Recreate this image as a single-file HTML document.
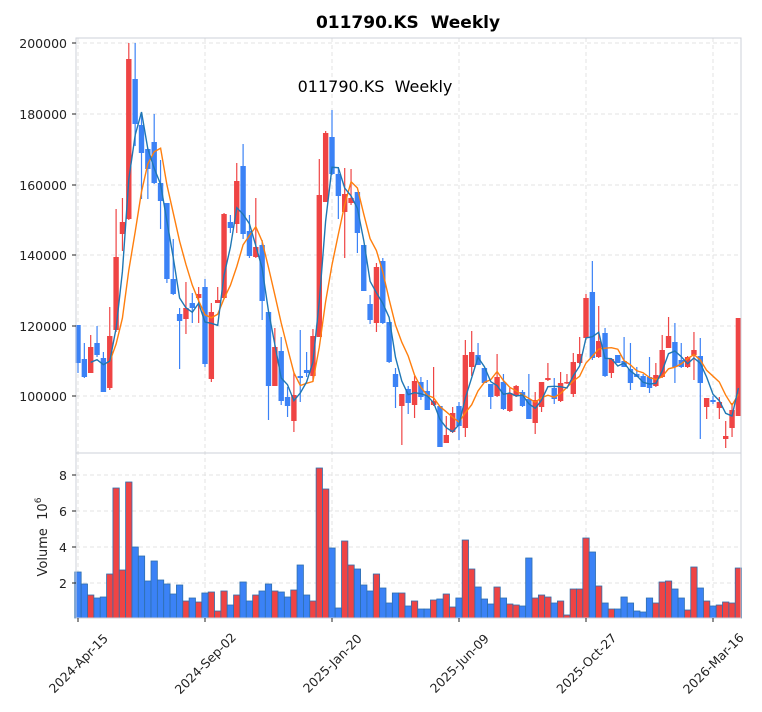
<!DOCTYPE html>
<html><head><meta charset="utf-8"><style>
html,body{margin:0;padding:0;background:#fff;}
svg{display:block;font-family:"DejaVu Sans","Liberation Sans",sans-serif;}
text{white-space:pre;}
</style></head><body>
<svg id="s" width="762" height="712" viewBox="0 0 762 712" xmlns="http://www.w3.org/2000/svg">
<rect width="762" height="712" fill="#fff"/>
<g id="grid"></g>
<g id="vol"></g>
<g id="cdl"></g>
<g id="ma"></g>
<rect x="76" y="38" width="665" height="415" fill="none" stroke="#ccd0d8" stroke-width="1"/>
<rect x="76" y="453" width="665" height="165" fill="none" stroke="#ccd0d8" stroke-width="1"/>
<text x="408" y="28" text-anchor="middle" font-size="17" font-weight="bold" fill="#000">011790.KS&#160;&#160;Weekly</text>
<text x="375" y="92" text-anchor="middle" font-size="16" fill="#000">011790.KS&#160;&#160;Weekly</text>
<g id="axes" font-size="12.5" fill="#222"></g>
<text transform="translate(47,537) rotate(-90)" text-anchor="middle" font-size="13" fill="#222">Volume&#160;&#160;10<tspan dy="-6" font-size="9">6</tspan></text>
</svg>
<script>
var NS="http://www.w3.org/2000/svg";
function el(p,t,a,txt){var e=document.createElementNS(NS,t);for(var k in a)e.setAttribute(k,a[k]);if(txt!==undefined)e.textContent=txt;document.getElementById(p).appendChild(e);return e;}
var R="#ef4444",B="#3b82f6";
var C=[[325,363,325,373,0],[359,377,343,378,0],[347,373,335,373,1],[343,355,326,357,0],[358,392,352,392,0],
[336,388,307,390,1],[257,330,209,332,1],[222,234,198,251,1],[59,219,43,220,1],[79,124,43,146,0],
[125,153,113,199,0],[149,169,148,199,0],[142,183,114,184,0],[183,201,160,229,0],[203,279,203,283,0],
[279,294,239,295,0],[314,321,308,369,0],[308,319,282,334,1],[303,308,293,323,0],[294,298,287,323,1],
[287,364,279,367,0],[312,379,303,382,1],[300,303,287,303,1],[214,298,213,299,1],[222,228,215,233,0],
[181,224,163,233,1],[166,234,144,239,0],[231,256,215,258,0],[247,257,198,258,1],[245,301,240,320,0],
[312,386,312,420,0],[347,386,328,386,1],[351,401,337,405,0],[397,406,387,417,0],[395,421,373,432,1],
[376,378,330,402,0],[370,373,352,377,0],[336,376,329,382,1],[195,337,159,337,1],[133,202,131,202,1],
[137,174,110,175,0],[174,196,167,219,0],[194,212,168,258,1],[198,203,169,205,1],[192,233,192,253,0],
[245,291,245,291,0],[304,320,295,324,0],[267,323,263,332,1],[261,323,258,324,0],[322,362,322,363,0],
[374,387,368,408,0],[394,406,394,445,1],[389,403,386,414,0],[381,405,376,418,1],[382,397,377,400,0],
[391,410,380,410,0],[401,405,367,406,1],[406,447,406,447,0],[435,443,416,443,1],[413,432,407,433,1],
[406,426,402,440,0],[355,428,340,437,1],[352,367,331,376,1],[355,365,343,365,0],[368,383,368,383,0],
[384,397,384,409,0],[377,396,354,397,1],[382,409,374,410,0],[393,411,388,412,1],[386,396,385,397,1],
[392,406,390,407,0],[399,419,374,419,0],[400,423,392,434,1],[382,407,382,412,1],[378,380,363,381,1],
[388,399,378,404,0],[383,401,372,402,1],[382,383,374,384,1],[362,394,353,397,1],[354,363,337,364,1],
[298,338,294,340,1],[292,358,261,360,0],[341,357,306,358,1],[333,376,328,377,0],[359,373,359,378,1],
[355,363,355,363,0],[361,367,337,367,0],[369,383,343,390,0],[374,377,367,377,0],[376,387,374,387,0],
[377,388,357,393,0],[375,386,363,387,1],[350,377,335,378,1],[336,348,317,348,1],[342,367,323,383,0],
[360,367,343,368,0],[357,367,356,368,1],[350,355,332,380,1],[356,383,338,439,0],[398,407,398,419,1],
[400,402,396,404,0],[402,408,397,419,1],[436,439,421,448,1],[410,428,403,437,1],[318,416,318,416,1]];
var V=[572,584,595,598,597,574,488,570,482,547,556,581,561,580,584,594,585,601,598,602,
593,592,611,591,605,595,582,601,595,591,584,591,592,597,590,565,595,601,468,489,
548,608,541,565,569,585,591,574,588,603,593,593,606,601,609,609,600,599,594,607,
598,540,569,587,599,604,587,598,604,605,606,558,598,595,597,603,601,615,589,589,
538,552,586,603,609,609,597,603,611,612,598,603,582,581,589,598,610,567,588,601,
606,605,602,603,568];
var dx=6.35,x0=78;
var gy=[43,114,185,255,326,396],gl=["200000","180000","160000","140000","120000","100000"];
var vy=[583,547,511,475],vl=["2","4","6","8"];
var tx=[78,205,332,459,586,713],tl=["2024-Apr-15","2024-Sep-02","2025-Jan-20","2025-Jun-09","2025-Oct-27","2026-Mar-16"];
gy.forEach(function(y,i){el("grid","line",{x1:76,x2:741,y1:y,y2:y,stroke:"#e3e3e3","stroke-dasharray":"4,3"});
 el("axes","line",{x1:72,x2:76,y1:y,y2:y,stroke:"#222"});el("axes","text",{x:67,y:y+5,"text-anchor":"end"},gl[i]);});
vy.forEach(function(y,i){el("grid","line",{x1:76,x2:741,y1:y,y2:y,stroke:"#e3e3e3","stroke-dasharray":"4,3"});
 el("axes","line",{x1:72,x2:76,y1:y,y2:y,stroke:"#222"});el("axes","text",{x:67,y:y+5,"text-anchor":"end"},vl[i]);});
tx.forEach(function(x,i){el("grid","line",{x1:x,x2:x,y1:38,y2:618,stroke:"#e3e3e3","stroke-dasharray":"4,3"});
 el("axes","line",{x1:x,x2:x,y1:618,y2:622,stroke:"#222"});
 el("axes","text",{x:x,y:668,"text-anchor":"middle",transform:"rotate(-45 "+x+" 663)"},tl[i]);});
V.forEach(function(t,i){var x=x0+i*dx;el("vol","rect",{x:x-dx/2,y:t,width:dx,height:618-t,fill:C[i][4]?R:B,stroke:"#2f6fae","stroke-width":0.8});});
var cl=[];
C.forEach(function(c,i){var x=x0+i*dx,col=c[4]?R:B;
 el("cdl","line",{x1:x,x2:x,y1:c[2],y2:c[3],stroke:col,"stroke-width":1.2});
 el("cdl","rect",{x:x-2.7,y:c[0],width:5.4,height:Math.max(1.5,c[1]-c[0]),fill:col});
 cl.push(c[4]?c[0]:c[1]);});
function ma(n,col){var p=[];for(var i=n-1;i<cl.length;i++){var s=0;for(var j=i-n+1;j<=i;j++)s+=cl[j];p.push((x0+i*dx).toFixed(1)+","+(s/n).toFixed(1));}
 el("ma","polyline",{points:p.join(" "),fill:"none",stroke:col,"stroke-width":1.4});}
ma(6,"#ff7f0e");ma(3,"#1f77b4");
</script>
</body></html>
